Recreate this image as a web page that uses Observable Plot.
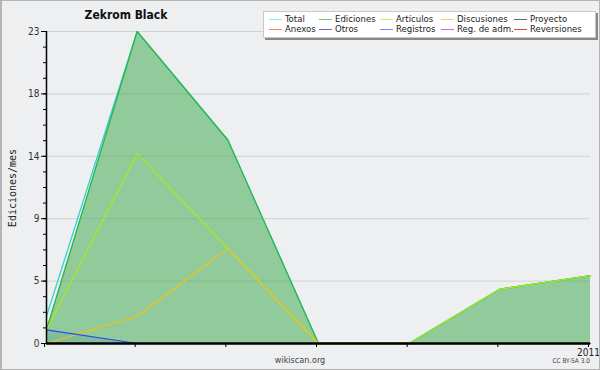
<!DOCTYPE html>
<html>
<head>
<meta charset="utf-8">
<script src="https://cdn.jsdelivr.net/npm/d3@7"></script>
<script src="https://cdn.jsdelivr.net/npm/@observablehq/plot@0.6"></script>
<style>
  html, body { margin: 0; padding: 0; background: #eeeff1; }
  #wrap { position: relative; width: 600px; height: 370px; background: #eeeff1; overflow: hidden;
          font-family: "DejaVu Sans Condensed", "DejaVu Sans", sans-serif; font-stretch: condensed; }
  #border { position: absolute; left: 0; top: 0; width: 600px; height: 370px; box-sizing: border-box;
            border: 1px solid #b4b4b4; border-left-width: 2px; pointer-events: none; }
  #title { position: absolute; left: 66px; top: 8px; width: 120px; text-align: center;
           font-weight: bold; font-size: 12px; color: #111; }
  #ylabel { position: absolute; left: 12px; top: 188px; transform: translate(-50%, -50%) rotate(-90deg);
            font-family: "DejaVu Sans Mono", monospace; font-stretch: normal; font-size: 10px; color: #222; white-space: nowrap; }
  #legend { position: absolute; left: 263px; top: 11px; width: 331px; height: 25px; background: #fff;
            border: 1px solid #c8c8c8; box-shadow: 2px 2px 0 #888; }
  .li { position: absolute; font-size: 9.5px; color: #222; white-space: nowrap; line-height: 10px; }
  .sw { position: absolute; height: 1px; width: 13px; }
  #foot { position: absolute; left: 300px; top: 355px; transform: translateX(-50%); font-size: 9px; color: #444; }
  #cc { position: absolute; right: 10px; top: 357px; font-size: 6.5px; color: #444; }
  svg { position: absolute; left: 0; top: 0; }
</style>
</head>
<body>
<div id="wrap">
  <div id="chart"></div>
  <div id="title"></div>
  <div id="ylabel"></div>
  <div id="legend"></div>
  <div id="foot"></div>
  <div id="cc"></div>
  <div id="border"></div>
</div>
<script>
// ---- data ----
const titleText = "Zekrom Black";
const yLabel = "Ediciones/mes";
const months = [0, 1, 2, 3, 4, 5, 6];
const xTickLabels = ["", "", "", "", "", "", "2011"];
const total       = [2, 23, 15, 0, 0, 4, 5];
const ediciones   = [1, 23, 15, 0, 0, 4, 5];
const articulos   = [1, 14, 7, 0, 0, 4, 5];
const discusiones = [0, 2, 7, 0, 0, 0, 0];
const registros   = [1, 0, 0, 0, 0, 0, 0];
const yMax = 23;
const legendNames = ["Total", "Ediciones", "Artículos", "Discusiones", "Proyecto",
                     "Anexos", "Otros", "Registros", "Reg. de adm.", "Reversiones"];
const legendColors = ["#a8e2e2", "#78c48a", "#c6f06e", "#f0d26c", "#666666",
                      "#f0905a", "#8458d4", "#7486f0", "#d064e0", "#e04444"];
const footText = "wikiscan.org";
const ccText = "CC BY-SA 3.0";

// ---- build ----
const rows = arr => months.map((m, i) => ({m, v: arr[i]}));
const major = d3.range(0, 6).map(i => yMax * i / 5);
const minor = d3.range(0, 21).map(i => yMax * i / 20);

const chart = Plot.plot({
  width: 600, height: 370,
  marginLeft: 46, marginRight: 10, marginTop: 31, marginBottom: 27,
  style: {background: "transparent", fontFamily: "'DejaVu Sans Condensed','DejaVu Sans',sans-serif", fontSize: "10px", color: "#333"},
  x: {domain: [0, 6], axis: null},
  y: {domain: [0, yMax], axis: null},
  marks: [
    Plot.gridY(major.slice(1), {stroke: "#d2d2d2", strokeOpacity: 1}),
    Plot.areaY(rows(registros), {x: "m", y: "v", fill: "#3050f0", fillOpacity: 0.18}),
    Plot.areaY(rows(ediciones), {x: "m", y: "v", fill: "#33a845", fillOpacity: 0.5}),
    Plot.lineY(rows(total), {x: "m", y: "v", stroke: "#30d2d2", strokeWidth: 1.3}),
    Plot.lineY(rows(ediciones), {x: "m", y: "v", stroke: "#2eb648", strokeWidth: 1.3}),
    Plot.lineY(rows(articulos), {x: "m", y: "v", stroke: "#a8e81e", strokeWidth: 1.3}),
    Plot.lineY(rows(discusiones), {x: "m", y: "v", stroke: "#e8c41c", strokeWidth: 1.3}),
    Plot.lineY(rows(registros), {x: "m", y: "v", stroke: "#3048f0", strokeWidth: 1.2}),
    Plot.ruleY([0], {stroke: "#000", strokeWidth: 2.6}),
    Plot.ruleX([0], {stroke: "#000", strokeWidth: 1.5}),
    Plot.axisY(minor, {tickSize: 3, tickFormat: () => "", label: null, stroke: "#000"}),
    Plot.axisY(major, {tickSize: 5, tickPadding: 2, tickFormat: d => String(Math.round(d)), label: null,
                       stroke: "#000", fill: "#333", fontSize: 10}),
    Plot.axisX(months, {tickSize: 4, tickPadding: 1, tickFormat: i => xTickLabels[i], label: null,
                        stroke: "#000", fill: "#222", fontSize: 10, dx: -2})
  ]
});
document.getElementById("chart").appendChild(chart);

document.getElementById("title").textContent = titleText;
document.getElementById("ylabel").textContent = yLabel;
document.getElementById("foot").textContent = footText;
document.getElementById("cc").textContent = ccText;

// legend (5 columns x 2 rows)
const colX = [5, 55, 116, 177, 250];
const leg = document.getElementById("legend");
legendNames.forEach((name, i) => {
  const col = i % 5, row = Math.floor(i / 5);
  const sw = document.createElement("div");
  sw.className = "sw";
  sw.style.left = colX[col] + "px";
  sw.style.top = (7 + row * 10) + "px";
  sw.style.background = legendColors[i];
  leg.appendChild(sw);
  const t = document.createElement("div");
  t.className = "li";
  t.style.left = (colX[col] + 16) + "px";
  t.style.top = (2 + row * 10) + "px";
  t.textContent = name;
  leg.appendChild(t);
});
</script>
</body>
</html>
